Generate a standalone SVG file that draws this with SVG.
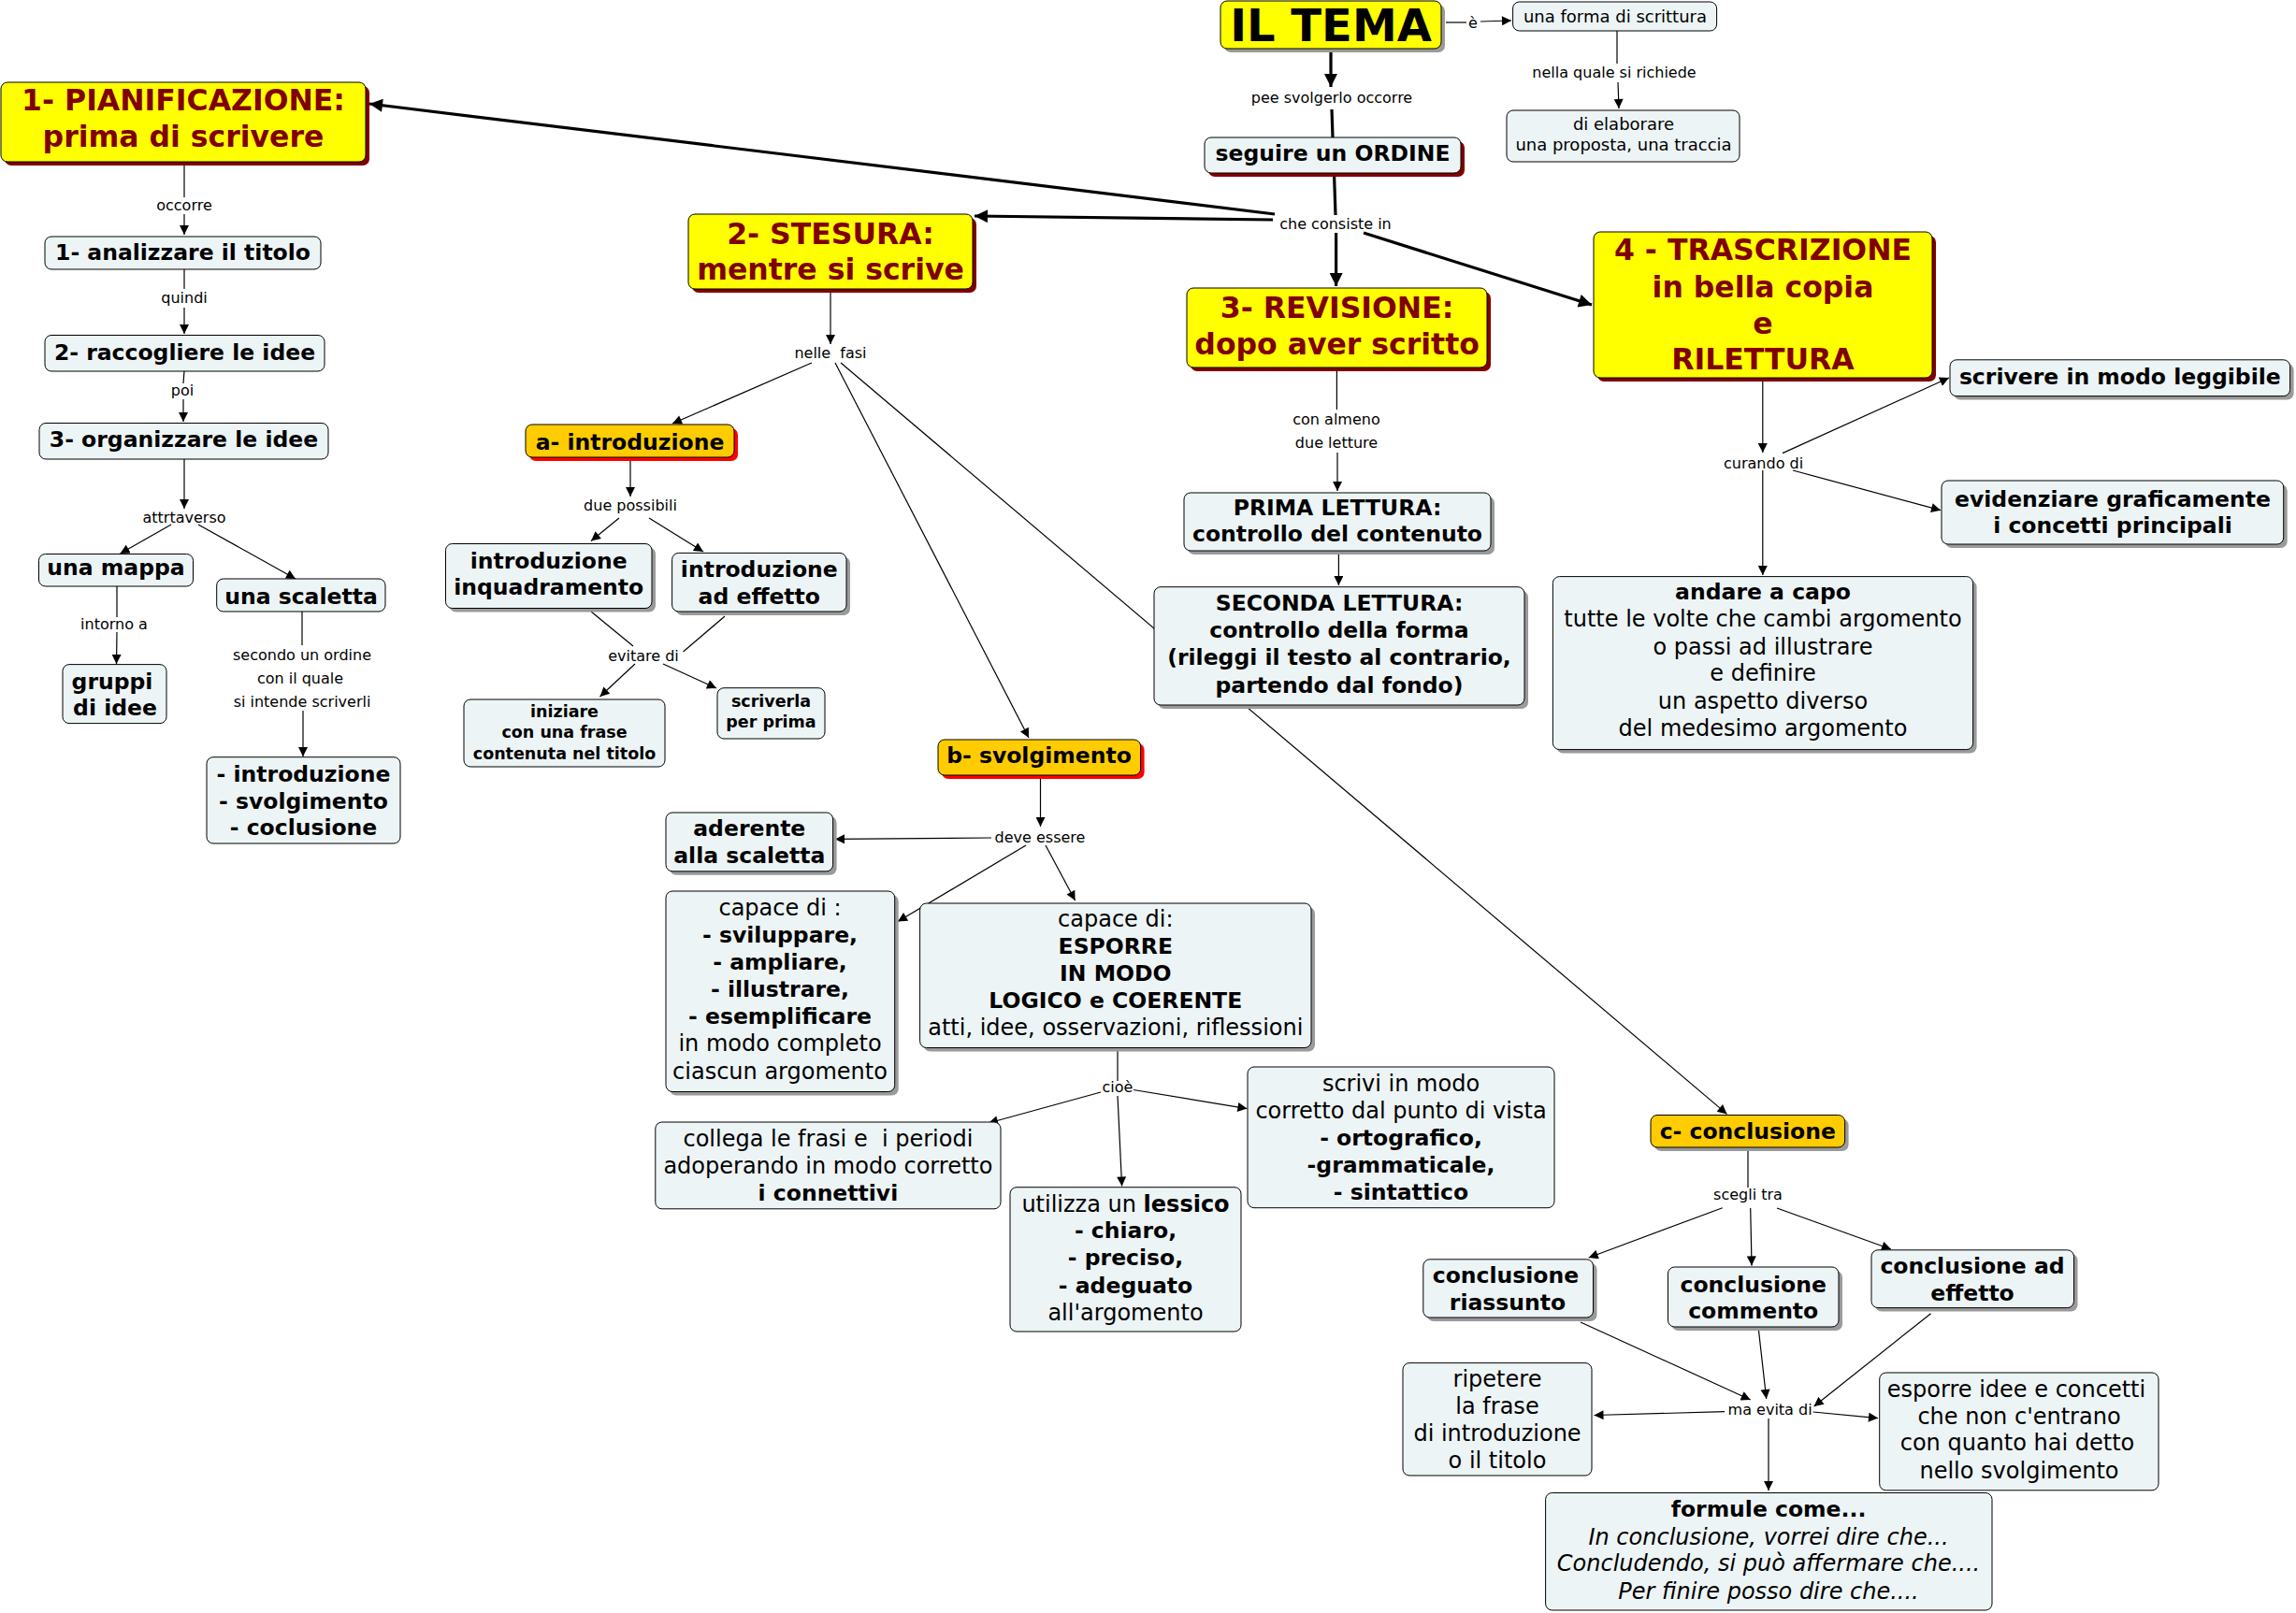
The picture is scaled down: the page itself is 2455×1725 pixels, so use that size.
<svg xmlns="http://www.w3.org/2000/svg" width="2455" height="1725" viewBox="0 0 2455 1725">
<defs>
<marker id="ah" viewBox="0 0 10 10" refX="10" refY="5" markerWidth="11" markerHeight="10" markerUnits="userSpaceOnUse" orient="auto"><path d="M0,0 L10,5 L0,10 z" fill="#000"/></marker>
<marker id="ahT" viewBox="0 0 10 10" refX="10" refY="5" markerWidth="16" markerHeight="14" markerUnits="userSpaceOnUse" orient="auto"><path d="M0,0 L10,5 L0,10 z" fill="#000"/></marker>
</defs>
<style>
.hdr{fill:#FFFF00;stroke:#000;stroke-width:1}
.nd{fill:#EDF4F5;stroke:#000;stroke-width:1}
.org{fill:#FFCC00;stroke:#000;stroke-width:1}
.shg{fill:#9a9a9a}
.shr{fill:#FF0000}
.shd{fill:#800000}
text{font-family:"DejaVu Sans",Verdana,sans-serif;text-anchor:middle;fill:#000}
.big{font-size:48px;font-weight:bold}
.th{font-size:31.5px;font-weight:bold;fill:#800000}
.tb{font-size:23.5px;font-weight:bold}
.tr{font-size:24px}
.ts{font-size:17.5px;font-weight:bold}
.tf{font-size:18px}
.lab{font-size:16px}
.b{font-weight:bold}
.i{font-style:italic}
.lk{stroke:#000;stroke-width:1.2;fill:none}
.lkT{stroke:#000;stroke-width:3.2;fill:none}
</style>
<rect x="0" y="0" width="2455" height="1725" fill="#fff"/>

<g id="connectors">
<line class="lk" x1="1546" y1="24" x2="1568" y2="24"/>
<line class="lk" x1="1583" y1="23" x2="1616" y2="22" marker-end="url(#ah)"/>
<line class="lk" x1="1729" y1="33" x2="1729" y2="68"/>
<line class="lk" x1="1730" y1="88" x2="1731" y2="116" marker-end="url(#ah)"/>
<line class="lkT" x1="1423" y1="52" x2="1423" y2="93" marker-end="url(#ahT)"/>
<line class="lkT" x1="1424" y1="117" x2="1425" y2="147"/>
<line class="lkT" x1="1426.5" y1="185" x2="1428" y2="230"/>
<line class="lkT" x1="1363" y1="229" x2="395" y2="111" marker-end="url(#ahT)"/>
<line class="lkT" x1="1361" y1="235" x2="1042" y2="231" marker-end="url(#ahT)"/>
<line class="lkT" x1="1428.6" y1="249" x2="1428.6" y2="306" marker-end="url(#ahT)"/>
<line class="lkT" x1="1458" y1="249" x2="1702" y2="326" marker-end="url(#ahT)"/>
<line class="lk" x1="197" y1="173" x2="197" y2="211"/>
<line class="lk" x1="197" y1="229" x2="197" y2="251" marker-end="url(#ah)"/>
<line class="lk" x1="197" y1="288" x2="197" y2="309"/>
<line class="lk" x1="197" y1="329" x2="197" y2="357" marker-end="url(#ah)"/>
<line class="lk" x1="197" y1="397" x2="196" y2="410"/>
<line class="lk" x1="196" y1="427" x2="196" y2="451" marker-end="url(#ah)"/>
<line class="lk" x1="197" y1="491" x2="197" y2="544" marker-end="url(#ah)"/>
<line class="lk" x1="183" y1="561" x2="128.5" y2="592" marker-end="url(#ah)"/>
<line class="lk" x1="212" y1="561" x2="316" y2="619" marker-end="url(#ah)"/>
<line class="lk" x1="125" y1="627" x2="125" y2="660"/>
<line class="lk" x1="125" y1="676" x2="124.5" y2="710" marker-end="url(#ah)"/>
<line class="lk" x1="323" y1="654" x2="323" y2="690"/>
<line class="lk" x1="324" y1="760" x2="324" y2="809" marker-end="url(#ah)"/>
<line class="lk" x1="888" y1="309" x2="888" y2="368" marker-end="url(#ah)"/>
<line class="lk" x1="868" y1="388" x2="719" y2="453" marker-end="url(#ah)"/>
<line class="lk" x1="893" y1="388" x2="1100" y2="789" marker-end="url(#ah)"/>
<line class="lk" x1="899" y1="388" x2="1846.5" y2="1191.4" marker-end="url(#ah)"/>
<line class="lk" x1="674" y1="490" x2="674" y2="531" marker-end="url(#ah)"/>
<line class="lk" x1="662" y1="554" x2="632" y2="578.5" marker-end="url(#ah)"/>
<line class="lk" x1="694" y1="554" x2="752" y2="590" marker-end="url(#ah)"/>
<line class="lk" x1="632" y1="654" x2="677" y2="691"/>
<line class="lk" x1="775" y1="659" x2="730.5" y2="697"/>
<line class="lk" x1="679" y1="710" x2="641.5" y2="745" marker-end="url(#ah)"/>
<line class="lk" x1="709" y1="710" x2="766" y2="736" marker-end="url(#ah)"/>
<line class="lk" x1="1112.5" y1="829" x2="1112.5" y2="884" marker-end="url(#ah)"/>
<line class="lk" x1="1060" y1="896" x2="893" y2="897.4" marker-end="url(#ah)"/>
<line class="lk" x1="1097" y1="904" x2="960" y2="985.5" marker-end="url(#ah)"/>
<line class="lk" x1="1118" y1="904" x2="1149.6" y2="963" marker-end="url(#ah)"/>
<line class="lk" x1="1195" y1="1123" x2="1195" y2="1156"/>
<line class="lk" x1="1177" y1="1168" x2="1057" y2="1201" marker-end="url(#ah)"/>
<line class="lk" x1="1195" y1="1172" x2="1199.6" y2="1268.5" marker-end="url(#ah)"/>
<line class="lk" x1="1212" y1="1165.5" x2="1333.4" y2="1185.6" marker-end="url(#ah)"/>
<line class="lk" x1="1869" y1="1227" x2="1869" y2="1270"/>
<line class="lk" x1="1841.7" y1="1291.7" x2="1698.7" y2="1345" marker-end="url(#ah)"/>
<line class="lk" x1="1871.7" y1="1292" x2="1873" y2="1353.4" marker-end="url(#ah)"/>
<line class="lk" x1="1900" y1="1292" x2="2022" y2="1336" marker-end="url(#ah)"/>
<line class="lk" x1="1690" y1="1414" x2="1871.7" y2="1497" marker-end="url(#ah)"/>
<line class="lk" x1="1880.5" y1="1423" x2="1888.7" y2="1496" marker-end="url(#ah)"/>
<line class="lk" x1="2064.6" y1="1404.7" x2="1939.6" y2="1504" marker-end="url(#ah)"/>
<line class="lk" x1="1844" y1="1509.7" x2="1704.5" y2="1513.5" marker-end="url(#ah)"/>
<line class="lk" x1="1938.6" y1="1510" x2="2008" y2="1516.6" marker-end="url(#ah)"/>
<line class="lk" x1="1891" y1="1517" x2="1891" y2="1594" marker-end="url(#ah)"/>
<line class="lk" x1="1429.4" y1="393" x2="1429.4" y2="438"/>
<line class="lk" x1="1430" y1="484" x2="1430" y2="525" marker-end="url(#ah)"/>
<line class="lk" x1="1431.4" y1="589" x2="1431.4" y2="626" marker-end="url(#ah)"/>
<line class="lk" x1="1884.8" y1="404" x2="1884.8" y2="484" marker-end="url(#ah)"/>
<line class="lk" x1="1906" y1="484.6" x2="2084" y2="404" marker-end="url(#ah)"/>
<line class="lk" x1="1917" y1="503" x2="2075" y2="545.7" marker-end="url(#ah)"/>
<line class="lk" x1="1884.8" y1="503" x2="1884.8" y2="615" marker-end="url(#ah)"/>
</g>

<g id="link-labels">
<text class="lab" x="1575" y="30">è</text>
<text class="lab" x="1726" y="83">nella quale si richiede</text>
<text class="lab" x="1424" y="110">pee svolgerlo occorre</text>
<text class="lab" x="1428" y="245">che consiste in</text>
<text class="lab" x="197" y="225">occorre</text>
<text class="lab" x="197" y="324">quindi</text>
<text class="lab" x="195" y="423">poi</text>
<text class="lab" x="197" y="559">attrtaverso</text>
<text class="lab" x="122" y="673">intorno a</text>
<text class="lab" x="323" y="706">secondo un ordine</text>
<text class="lab" x="321" y="731">con il quale</text>
<text class="lab" x="323" y="756">si intende scriverli</text>
<text class="lab" x="888" y="383" xml:space="preserve">nelle  fasi</text>
<text class="lab" x="674" y="546">due possibili</text>
<text class="lab" x="688" y="707">evitare di</text>
<text class="lab" x="1112" y="901">deve essere</text>
<text class="lab" x="1195" y="1168">cioè</text>
<text class="lab" x="1869" y="1283">scegli tra</text>
<text class="lab" x="1892.6" y="1513">ma evita di</text>
<text class="lab" x="1429" y="454">con almeno</text>
<text class="lab" x="1429" y="479">due letture</text>
<text class="lab" x="1885.6" y="501">curando di</text>
</g>

<g id="n-iltema"><rect class="shg" x="1309" y="5" width="236" height="51" rx="7"/><rect class="hdr" x="1305" y="1" width="236" height="51" rx="7"/><text class="big" x="1423" y="44">IL TEMA</text></g>
<g id="n-forma"><rect class="nd" x="1617.6" y="2" width="218" height="31" rx="7"/><text class="tf" x="1727" y="24">una forma di scrittura</text></g>
<g id="n-elaborare"><rect class="nd" x="1611" y="118" width="249" height="55" rx="7"/><text class="tf" x="1736" y="139">di elaborare</text><text class="tf" x="1736" y="161">una proposta, una traccia</text></g>
<g id="n-ordine"><rect class="shd" x="1292" y="151" width="274" height="38" rx="7"/><rect class="nd" x="1288" y="147" width="274" height="38" rx="7"/><text class="tb" x="1425" y="172">seguire un ORDINE</text></g>
<g id="n-pianif"><rect class="shd" x="5" y="92" width="390" height="85" rx="7"/><rect class="hdr" x="1" y="88" width="390" height="85" rx="7"/><text class="th" x="196" y="118">1- PIANIFICAZIONE:</text><text class="th" x="196" y="157">prima di scrivere</text></g>
<g id="n-stesura"><rect class="shd" x="740" y="233" width="304" height="80" rx="7"/><rect class="hdr" x="736" y="229" width="304" height="80" rx="7"/><text class="th" x="888" y="261">2- STESURA:</text><text class="th" x="888" y="299">mentre si scrive</text></g>
<g id="n-revisione"><rect class="shd" x="1273" y="312" width="321" height="85" rx="7"/><rect class="hdr" x="1269" y="308" width="321" height="85" rx="7"/><text class="th" x="1429.6" y="340">3- REVISIONE:</text><text class="th" x="1429.6" y="379">dopo aver scritto</text></g>
<g id="n-trascrizione"><rect class="shd" x="1708" y="252" width="362" height="156" rx="7"/><rect class="hdr" x="1704" y="248" width="362" height="156" rx="7"/><text class="th" x="1885" y="278">4 - TRASCRIZIONE</text><text class="th" x="1885" y="318">in bella copia</text><text class="th" x="1885" y="357">e</text><text class="th" x="1885" y="395">RILETTURA</text></g>
<g id="n-analizzare"><rect class="nd" x="48" y="253" width="295" height="35" rx="7"/><text class="tb" x="195.5" y="278">1- analizzare il titolo</text></g>
<g id="n-raccogliere"><rect class="nd" x="48" y="358.5" width="299" height="38.5" rx="7"/><text class="tb" x="197.5" y="385">2- raccogliere le idee</text></g>
<g id="n-organizzare"><rect class="nd" x="42" y="452.5" width="309" height="38.5" rx="7"/><text class="tb" x="196.5" y="478">3- organizzare le idee</text></g>
<g id="n-mappa"><rect class="nd" x="41.5" y="592.5" width="165" height="34.5" rx="7"/><text class="tb" x="124" y="615">una mappa</text></g>
<g id="n-scaletta"><rect class="nd" x="231.7" y="619" width="180.3" height="35" rx="7"/><text class="tb" x="322" y="646">una scaletta</text></g>
<g id="n-gruppi"><rect class="nd" x="67" y="710.6" width="111" height="63" rx="7"/><text class="tb" x="120" y="737">gruppi</text><text class="tb" x="123" y="764.6">di idee</text></g>
<g id="n-parti"><rect class="nd" x="221" y="809.7" width="207" height="92.3" rx="7"/><text class="tb" x="324.5" y="835.6">- introduzione</text><text class="tb" x="324.5" y="865">- svolgimento</text><text class="tb" x="324.5" y="893">- coclusione</text></g>
<g id="n-a-intro"><rect class="shr" x="566" y="458" width="223" height="35" rx="7"/><rect class="org" x="562" y="454" width="223" height="35" rx="7"/><text class="tb" x="673.5" y="481">a- introduzione</text></g>
<g id="n-inquadramento"><rect class="shg" x="480.5" y="585.5" width="220.5" height="69" rx="7"/><rect class="nd" x="476.5" y="581.5" width="220.5" height="69" rx="7"/><text class="tb" x="586.7" y="608">introduzione</text><text class="tb" x="586.7" y="636">inquadramento</text></g>
<g id="n-adeffetto"><rect class="shg" x="722.6" y="595.4" width="186.4" height="62.6" rx="7"/><rect class="nd" x="718.6" y="591.4" width="186.4" height="62.6" rx="7"/><text class="tb" x="811.8" y="617">introduzione</text><text class="tb" x="811.8" y="646">ad effetto</text></g>
<g id="n-iniziare"><rect class="nd" x="496" y="748" width="215" height="72" rx="7"/><text class="ts" x="603.5" y="767">iniziare</text><text class="ts" x="603.5" y="789">con una frase</text><text class="ts" x="603.5" y="811.6">contenuta nel titolo</text></g>
<g id="n-scriverla"><rect class="nd" x="767" y="735.7" width="115" height="54.3" rx="7"/><text class="ts" x="824.5" y="756">scriverla</text><text class="ts" x="824.5" y="778">per prima</text></g>
<g id="n-b-svolg"><rect class="shr" x="1007" y="795" width="216.6" height="38" rx="7"/><rect class="org" x="1003" y="791" width="216.6" height="38" rx="7"/><text class="tb" x="1111" y="816">b- svolgimento</text></g>
<g id="n-aderente"><rect class="shg" x="716" y="873" width="178.6" height="62.8" rx="7"/><rect class="nd" x="712" y="869" width="178.6" height="62.8" rx="7"/><text class="tb" x="801.3" y="893.7">aderente</text><text class="tb" x="801.3" y="922.6">alla scaletta</text></g>
<g id="n-sviluppare"><rect class="shg" x="716" y="957" width="244.7" height="214.5" rx="7"/><rect class="nd" x="712" y="953" width="244.7" height="214.5" rx="7"/><text class="tr" x="834" y="979">capace di :</text><text class="tb" x="834" y="1008">- sviluppare,</text><text class="tb" x="834" y="1037">- ampliare,</text><text class="tb" x="834" y="1066">- illustrare,</text><text class="tb" x="834" y="1095">- esemplificare</text><text class="tr" x="834" y="1124">in modo completo</text><text class="tr" x="834" y="1154">ciascun argomento</text></g>
<g id="n-esporre-logico"><rect class="shg" x="987.6" y="970" width="418.4" height="154.5" rx="7"/><rect class="nd" x="983.6" y="966" width="418.4" height="154.5" rx="7"/><text class="tr" x="1192.8" y="991">capace di:</text><text class="tb" x="1192.8" y="1020">ESPORRE</text><text class="tb" x="1192.8" y="1049">IN MODO</text><text class="tb" x="1192.8" y="1078">LOGICO e COERENTE</text><text class="tr" x="1192.8" y="1107">atti, idee, osservazioni, riflessioni</text></g>
<g id="n-collega"><rect class="nd" x="700.8" y="1200" width="369.2" height="92.8" rx="7"/><text class="tr" x="885.4" y="1226" xml:space="preserve">collega le frasi e  i periodi</text><text class="tr" x="885.4" y="1255">adoperando in modo corretto</text><text class="tb" x="885.4" y="1284">i connettivi</text></g>
<g id="n-lessico"><rect class="nd" x="1080" y="1269.7" width="247" height="154.3" rx="7"/><text class="tr" x="1203.5" y="1295.5">utilizza un <tspan class="b">lessico</tspan></text><text class="tb" x="1203.5" y="1323.7">- chiaro,</text><text class="tb" x="1203.5" y="1353.4">- preciso,</text><text class="tb" x="1203.5" y="1383">- adeguato</text><text class="tr" x="1203.5" y="1412">all'argomento</text></g>
<g id="n-scrivi"><rect class="nd" x="1334" y="1141" width="328" height="150.7" rx="7"/><text class="tr" x="1498" y="1167">scrivi in modo</text><text class="tr" x="1498" y="1196">corretto dal punto di vista</text><text class="tb" x="1498" y="1225">- ortografico,</text><text class="tb" x="1498" y="1254">-grammaticale,</text><text class="tb" x="1498" y="1283">- sintattico</text></g>
<g id="n-prima"><rect class="shg" x="1270" y="531" width="328" height="62" rx="7"/><rect class="nd" x="1266" y="527" width="328" height="62" rx="7"/><text class="tb" x="1430" y="551">PRIMA LETTURA:</text><text class="tb" x="1430" y="578.5">controllo del contenuto</text></g>
<g id="n-seconda"><rect class="shg" x="1238" y="631.7" width="396" height="126.3" rx="7"/><rect class="nd" x="1234" y="627.7" width="396" height="126.3" rx="7"/><text class="tb" x="1432" y="652.5">SECONDA LETTURA:</text><text class="tb" x="1432" y="682">controllo della forma</text><text class="tb" x="1432" y="711">(rileggi il testo al contrario,</text><text class="tb" x="1432" y="740.5">partendo dal fondo)</text></g>
<g id="n-capo"><rect class="shg" x="1664.4" y="620.6" width="449.2" height="185" rx="7"/><rect class="nd" x="1660.4" y="616.6" width="449.2" height="185" rx="7"/><text class="tb" x="1885" y="641.4">andare a capo</text><text class="tr" x="1885" y="670">tutte le volte che cambi argomento</text><text class="tr" x="1885" y="700">o passi ad illustrare</text><text class="tr" x="1885" y="728">e definire</text><text class="tr" x="1885" y="758">un aspetto diverso</text><text class="tr" x="1885" y="786.8">del medesimo argomento</text></g>
<g id="n-leggibile"><rect class="shg" x="2089" y="388.8" width="363.6" height="38.8" rx="7"/><rect class="nd" x="2085" y="384.8" width="363.6" height="38.8" rx="7"/><text class="tb" x="2266.8" y="410.7">scrivere in modo leggibile</text></g>
<g id="n-evidenziare"><rect class="shg" x="2080" y="518" width="365.7" height="68" rx="7"/><rect class="nd" x="2076" y="514" width="365.7" height="68" rx="7"/><text class="tb" x="2259" y="542">evidenziare graficamente</text><text class="tb" x="2259" y="569.7">i concetti principali</text></g>
<g id="n-c-concl"><rect class="shg" x="1769" y="1196.5" width="207.6" height="34.5" rx="7"/><rect class="org" x="1765" y="1192.5" width="207.6" height="34.5" rx="7"/><text class="tb" x="1868.8" y="1218">c- conclusione</text></g>
<g id="n-riassunto"><rect class="shg" x="1525.8" y="1350.8" width="181.7" height="62.2" rx="7"/><rect class="nd" x="1521.8" y="1346.8" width="181.7" height="62.2" rx="7"/><text class="tb" x="1610" y="1372">conclusione</text><text class="tb" x="1612" y="1401">riassunto</text></g>
<g id="n-commento"><rect class="shg" x="1787.5" y="1359" width="182.5" height="64" rx="7"/><rect class="nd" x="1783.5" y="1355" width="182.5" height="64" rx="7"/><text class="tb" x="1874.7" y="1381.6">conclusione</text><text class="tb" x="1874.7" y="1410">commento</text></g>
<g id="n-concl-effetto"><rect class="shg" x="2005" y="1340.8" width="216.5" height="61.8" rx="7"/><rect class="nd" x="2001" y="1336.8" width="216.5" height="61.8" rx="7"/><text class="tb" x="2109" y="1362">conclusione ad</text><text class="tb" x="2109" y="1391">effetto</text></g>
<g id="n-ripetere"><rect class="nd" x="1500" y="1457.6" width="202" height="120.4" rx="7"/><text class="tr" x="1601" y="1482.6">ripetere</text><text class="tr" x="1601" y="1511.6">la frase</text><text class="tr" x="1601" y="1540.5">di introduzione</text><text class="tr" x="1601" y="1569.5">o il titolo</text></g>
<g id="n-esporre"><rect class="nd" x="2009.7" y="1468" width="298.3" height="125.8" rx="7"/><text class="tr" x="2156" y="1493.5">esporre idee e concetti</text><text class="tr" x="2159" y="1523">che non c'entrano</text><text class="tr" x="2157" y="1551">con quanto hai detto</text><text class="tr" x="2159" y="1581">nello svolgimento</text></g>
<g id="n-formule"><rect class="nd" x="1652.6" y="1596.5" width="477.4" height="125.5" rx="7"/><text class="tb" x="1891" y="1622">formule come...</text><text class="tr i" x="1891" y="1651.6">In conclusione, vorrei dire che...</text><text class="tr i" x="1891" y="1680">Concludendo, si può affermare che....</text><text class="tr i" x="1891" y="1709.5">Per finire posso dire che....</text></g>
</svg>
